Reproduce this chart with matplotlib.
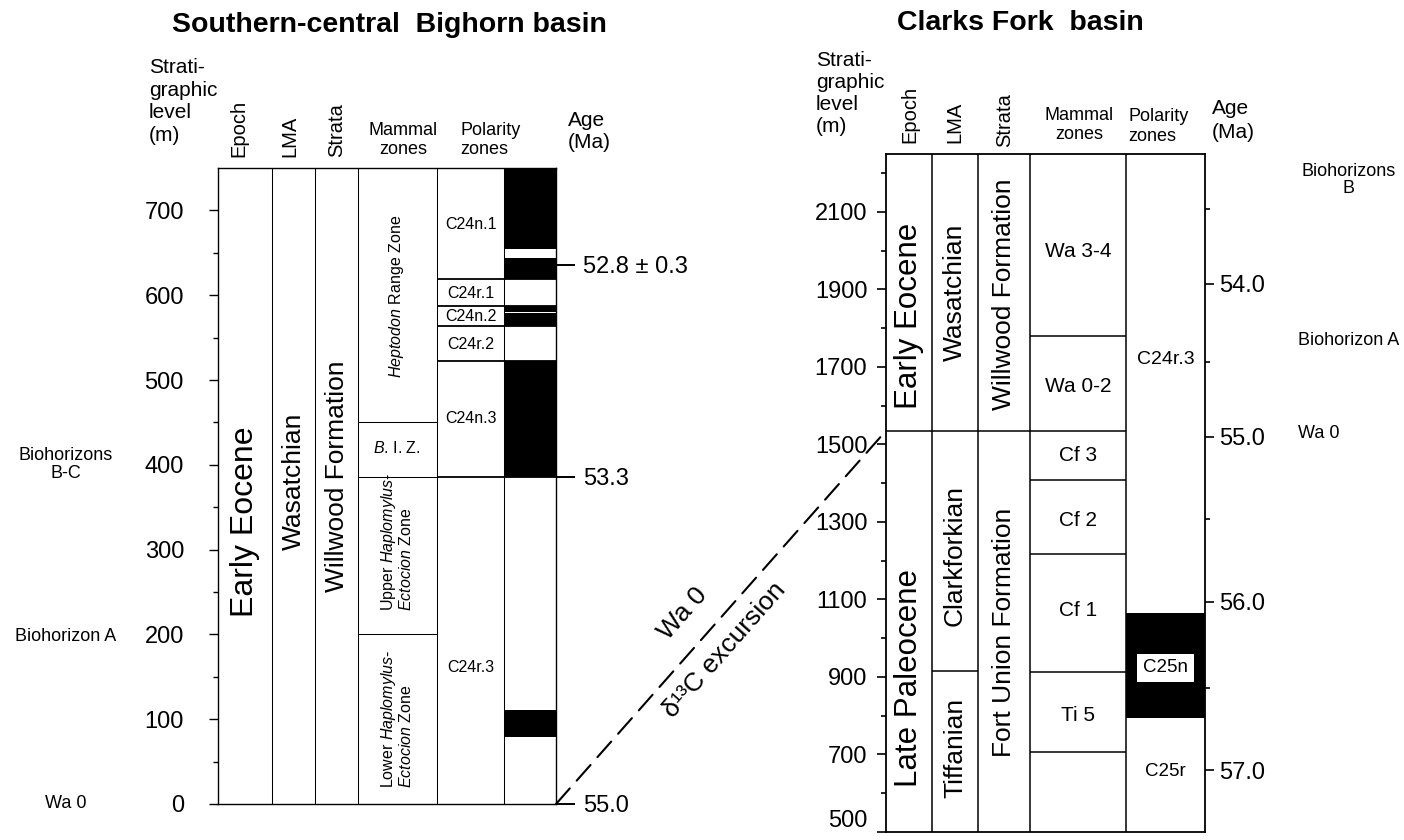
import math

import matplotlib
matplotlib.use("Agg")
import matplotlib.pyplot as plt
from matplotlib.patches import ConnectionPatch

plt.rcParams['font.family'] = ['Liberation Sans', 'DejaVu Sans']
plt.rcParams['mathtext.fontset'] = 'custom'
plt.rcParams['mathtext.rm'] = 'Liberation Sans'
plt.rcParams['mathtext.it'] = 'Liberation Sans:italic'

W, H = 1404, 840

# ---- Southern-central Bighorn basin (stratigraphic level, m) ----
bh_top = 750
bh_epoch = ["Early Eocene"]
bh_epoch_levels = [333]
bh_lma = ["Wasatchian"]
bh_lma_levels = [380]
bh_strata = ["Willwood Formation"]
bh_strata_levels = [387]
bh_mammal_bounds = [450, 386, 200]
bh_mammal_labels = [r"$\mathit{Heptodon}$ Range Zone",
                    r"$\mathit{B}$. I. Z.",
                    "Upper $\\mathit{Haplomylus}$-\n$\\mathit{Ectocion}$ Zone",
                    "Lower $\\mathit{Haplomylus}$-\n$\\mathit{Ectocion}$ Zone"]
bh_mammal_label_levels = [598, 420, 309, 100]
bh_mammal_label_rot = [90, 0, 90, 90]
bh_polarity_bounds = [619, 587, 564, 522, 386]
bh_polarity_labels = ["C24n.1", "C24r.1", "C24n.2", "C24r.2", "C24n.3", "C24r.3"]
bh_polarity_label_levels = [683, 602, 575, 542, 455, 161]
bh_normal_bottoms = [654, 619, 580.5, 564, 386, 79]
bh_normal_tops = [750, 644, 587, 579, 522, 111]
bh_age_levels = [636, 386, 0]
bh_age_labels = ["52.8 ± 0.3", "53.3", "55.0"]
bh_marker_labels = ["Biohorizons\nB-C", "Biohorizon A", "Wa 0"]
bh_marker_levels = [400, 197, 1]

# ---- Clarks Fork basin ----
cf_bottom, cf_top = 500, 2250
cf_epoch = ["Early Eocene", "Late Paleocene"]
cf_epoch_levels = [1831, 896]
cf_epoch_bound = 1535
cf_lma = ["Wasatchian", "Clarkforkian", "Tiffanian"]
cf_lma_levels = [1892, 1212, 717]
cf_lma_bound = 915
cf_strata = ["Willwood Formation", "Fort Union Formation"]
cf_strata_levels = [1888, 1015]
cf_mammal_bounds = [1780, 1408, 1216, 912, 707]
cf_mammal_labels = ["Wa 3-4", "Wa 0-2", "Cf 3", "Cf 2", "Cf 1", "Ti 5"]
cf_mammal_label_levels = [1997, 1648, 1470, 1304, 1071, 801]
cf_normal_bottom, cf_normal_top = 793, 1064
cf_polarity_labels = ["C24r.3", "C25n", "C25r"]
cf_polarity_label_levels = [1718, 923, 655]
cf_ages = [54.0, 55.0, 56.0, 57.0]
cf_age_levels = [1915, 1520, 1094, 659]
cf_age_minor_levels = [2106, 1713, 1307, 872]
cf_marker_labels = ["Biohorizons\nB", "Biohorizon A", "Wa 0"]
cf_marker_levels = [2182, 1769, 1527]

# Wa 0 / carbon isotope excursion tie line (level in each basin)
tie_bh, tie_cf = 0, 1535

# column edges in pixels, relative to each panel's left axis
bh_cols = [0, 54, 97, 140, 219, 286, 338]
cf_cols = [0, 46, 92, 144, 240, 319]


def px_rect(x0, x1, y_top, y_bot):
    return [x0 / W, 1 - y_bot / H, (x1 - x0) / W, (y_bot - y_top) / H]


def ftext(x, y, s, **kw):
    fig.text(x / W, 1 - y / H, s, **kw)


def col_mid(cols, i):
    return (cols[i] + cols[i + 1]) / 2


fig = plt.figure(figsize=(W / 100, H / 100), dpi=100)

# ------------------------------------------------------------ left panel
axL = fig.add_axes(px_rect(218, 556, 168, 804))
axL.set_xlim(bh_cols[0], bh_cols[-1])
axL.set_ylim(0, bh_top)
axL.set_xticks([])
axL.set_yticks(range(0, 701, 100))
axL.set_yticks(range(50, 700, 100), minor=True)
axL.tick_params(axis='y', which='major', direction='out', length=6.5, width=1.0,
                labelsize=17, pad=18)
axL.tick_params(axis='y', which='minor', direction='out', length=3.6, width=1.0)
for s in axL.spines.values():
    s.set_linewidth(1.0)

thin = 0.75
axL.vlines(bh_cols[1:-1], 0, bh_top, color='black', lw=thin)
axL.hlines(bh_mammal_bounds, bh_cols[3], bh_cols[4], color='black', lw=thin)
axL.hlines(bh_polarity_bounds, bh_cols[4], bh_cols[6], color='black', lw=1.3)
axL.bar((bh_cols[5] + bh_cols[6]) / 2,
        [t - b for t, b in zip(bh_normal_tops, bh_normal_bottoms)],
        bottom=bh_normal_bottoms, width=bh_cols[6] - bh_cols[5],
        color='black', edgecolor='none')

for txt, lv in zip(bh_epoch, bh_epoch_levels):
    axL.text(col_mid(bh_cols, 0), lv, txt, rotation=90, ha='center', va='center', fontsize=23)
for txt, lv in zip(bh_lma, bh_lma_levels):
    axL.text(col_mid(bh_cols, 1), lv, txt, rotation=90, ha='center', va='center', fontsize=19)
for txt, lv in zip(bh_strata, bh_strata_levels):
    axL.text(col_mid(bh_cols, 2), lv, txt, rotation=90, ha='center', va='center', fontsize=19)
for txt, lv, rot in zip(bh_mammal_labels, bh_mammal_label_levels, bh_mammal_label_rot):
    axL.text(col_mid(bh_cols, 3) - 1, lv, txt, rotation=rot, ha='center', va='center',
             fontsize=11.5, multialignment='left', linespacing=1.0)
for txt, lv in zip(bh_polarity_labels, bh_polarity_label_levels):
    axL.text(col_mid(bh_cols, 4), lv, txt, ha='center', va='center', fontsize=11.5)
for txt, lv in zip(bh_marker_labels, bh_marker_levels):
    axL.text(66 - 218, lv, txt, ha='center', va='center', fontsize=13,
             linespacing=1.05, clip_on=False)

axLa = axL.twinx()
axLa.set_ylim(axL.get_ylim())
axLa.set_yticks(bh_age_levels, bh_age_labels)
axLa.tick_params(axis='y', direction='out', length=13.7, width=1.4, labelsize=17, pad=5.5)
for s in axLa.spines.values():
    s.set_visible(False)

# ------------------------------------------------------------ right panel
axR = fig.add_axes(px_rect(886, 1205, 153.7, 831.8))
axR.set_xlim(cf_cols[0], cf_cols[-1])
axR.set_ylim(cf_bottom, cf_top)
axR.set_xticks([])
axR.set_yticks(range(500, 2101, 200))
axR.set_yticks(range(600, 2201, 200), minor=True)
axR.tick_params(axis='y', which='major', direction='out', length=6.5, width=1.2,
                labelsize=17, pad=7)
axR.tick_params(axis='y', which='minor', direction='out', length=3.4, width=1.2)
for s in axR.spines.values():
    s.set_linewidth(1.3)
# lowest level label sits right on the bottom edge; lift it a little
axR.get_yticklabels()[0].set_verticalalignment('bottom')

lw_r = 1.1
axR.vlines(cf_cols[1:-1], cf_bottom, cf_top, color='black', lw=lw_r)
axR.hlines(cf_epoch_bound, cf_cols[0], cf_cols[4], color='black', lw=lw_r)
axR.hlines(cf_lma_bound, cf_cols[1], cf_cols[2], color='black', lw=lw_r)
axR.hlines(cf_mammal_bounds, cf_cols[3], cf_cols[4], color='black', lw=lw_r)
axR.bar(col_mid(cf_cols, 4), cf_normal_top - cf_normal_bottom, bottom=cf_normal_bottom,
        width=cf_cols[5] - cf_cols[4], color='black', edgecolor='none')

for txt, lv in zip(cf_epoch, cf_epoch_levels):
    axR.text(col_mid(cf_cols, 0), lv, txt, rotation=90, ha='center', va='center', fontsize=22.5)
for txt, lv in zip(cf_lma, cf_lma_levels):
    axR.text(col_mid(cf_cols, 1), lv, txt, rotation=90, ha='center', va='center', fontsize=19)
for txt, lv in zip(cf_strata, cf_strata_levels):
    axR.text(col_mid(cf_cols, 2), lv, txt, rotation=90, ha='center', va='center', fontsize=19)
for txt, lv in zip(cf_mammal_labels, cf_mammal_label_levels):
    axR.text(col_mid(cf_cols, 3), lv, txt, ha='center', va='center', fontsize=15)
for txt, lv in zip(cf_polarity_labels, cf_polarity_label_levels):
    boxed = txt == "C25n"
    axR.text(col_mid(cf_cols, 4), lv, txt, ha='center', va='center',
             fontsize=13.5 if txt != "C24r.3" else 14,
             bbox=dict(boxstyle='square,pad=0.3', fc='white', ec='none') if boxed else None)
for txt, lv in zip(cf_marker_labels, cf_marker_levels):
    if '\n' in txt:
        axR.text(1349 - 886, lv, txt, ha='center', va='center', fontsize=13,
                 linespacing=1.05, clip_on=False)
    else:
        axR.text(1298 - 886, lv, txt, ha='left', va='center', fontsize=13, clip_on=False)

axRa = axR.twinx()
axRa.set_ylim(axR.get_ylim())
axRa.set_yticks(cf_age_levels, [f"{a:.1f}" for a in cf_ages])
axRa.set_yticks(cf_age_minor_levels, minor=True)
axRa.tick_params(axis='y', which='major', direction='out', length=6.5, width=1.2,
                 labelsize=17, pad=4)
axRa.tick_params(axis='y', which='minor', direction='out', length=3.4, width=1.2)
for s in axRa.spines.values():
    s.set_visible(False)

# ------------------------------------------------------------ tie line
pA = axL.transData.transform((bh_cols[-1], tie_bh))
pB = axR.transData.transform((cf_cols[0], tie_cf))
tie = ConnectionPatch((bh_cols[-1], tie_bh), (cf_cols[0], tie_cf),
                      coordsA=axL.transData, coordsB=axR.transData,
                      color='black', lw=1.5, linestyle=(0, (10, 5)))
fig.add_artist(tie)

ang = math.atan2(pB[1] - pA[1], pB[0] - pA[0])
nx, ny = -math.sin(ang), math.cos(ang)
t = 0.455
mx, my = pA[0] + t * (pB[0] - pA[0]), pA[1] + t * (pB[1] - pA[1])
for txt, off in [("Wa 0", 31), ("δ¹³C excursion", -24)]:
    fig.text((mx + off * nx) / W, (my + off * ny) / H, txt, rotation=math.degrees(ang),
             rotation_mode='anchor', ha='center', va='center', fontsize=19)

# ------------------------------------------------------------ headers
ftext(389, 25, "Southern-central  Bighorn basin", ha='center', va='center',
      fontsize=20.5, fontweight='bold')
ftext(1020, 23, "Clarks Fork  basin", ha='center', va='center',
      fontsize=20.5, fontweight='bold')

ftext(149, 101.5, "Strati-\ngraphic\nlevel\n(m)", ha='left', va='center',
      fontsize=15, linespacing=1.25)
ftext(816, 93.5, "Strati-\ngraphic\nlevel\n(m)", ha='left', va='center',
      fontsize=15, linespacing=1.2)
for x, y, s in [(239, 157, "Epoch"), (290, 157, "LMA"), (337, 157, "Strata"),
                (909.5, 143, "Epoch"), (955, 143, "LMA"), (1005, 147, "Strata")]:
    ftext(x, y, s, rotation=90, ha='center', va='bottom', fontsize=14.5)
ftext(403, 140, "Mammal\nzones", ha='center', va='center', fontsize=13, linespacing=1.2)
ftext(460, 140, "Polarity\nzones", ha='left', va='center', fontsize=13, linespacing=1.2)
ftext(568, 131.5, "Age\n(Ma)", ha='left', va='center', fontsize=15, linespacing=1.25)
ftext(1079, 125, "Mammal\nzones", ha='center', va='center', fontsize=13, linespacing=1.2)
ftext(1128, 126.5, "Polarity\nzones", ha='left', va='center', fontsize=13, linespacing=1.2)
ftext(1212, 120.5, "Age\n(Ma)", ha='left', va='center', fontsize=15, linespacing=1.3)

fig.savefig("out.png", dpi=100)
